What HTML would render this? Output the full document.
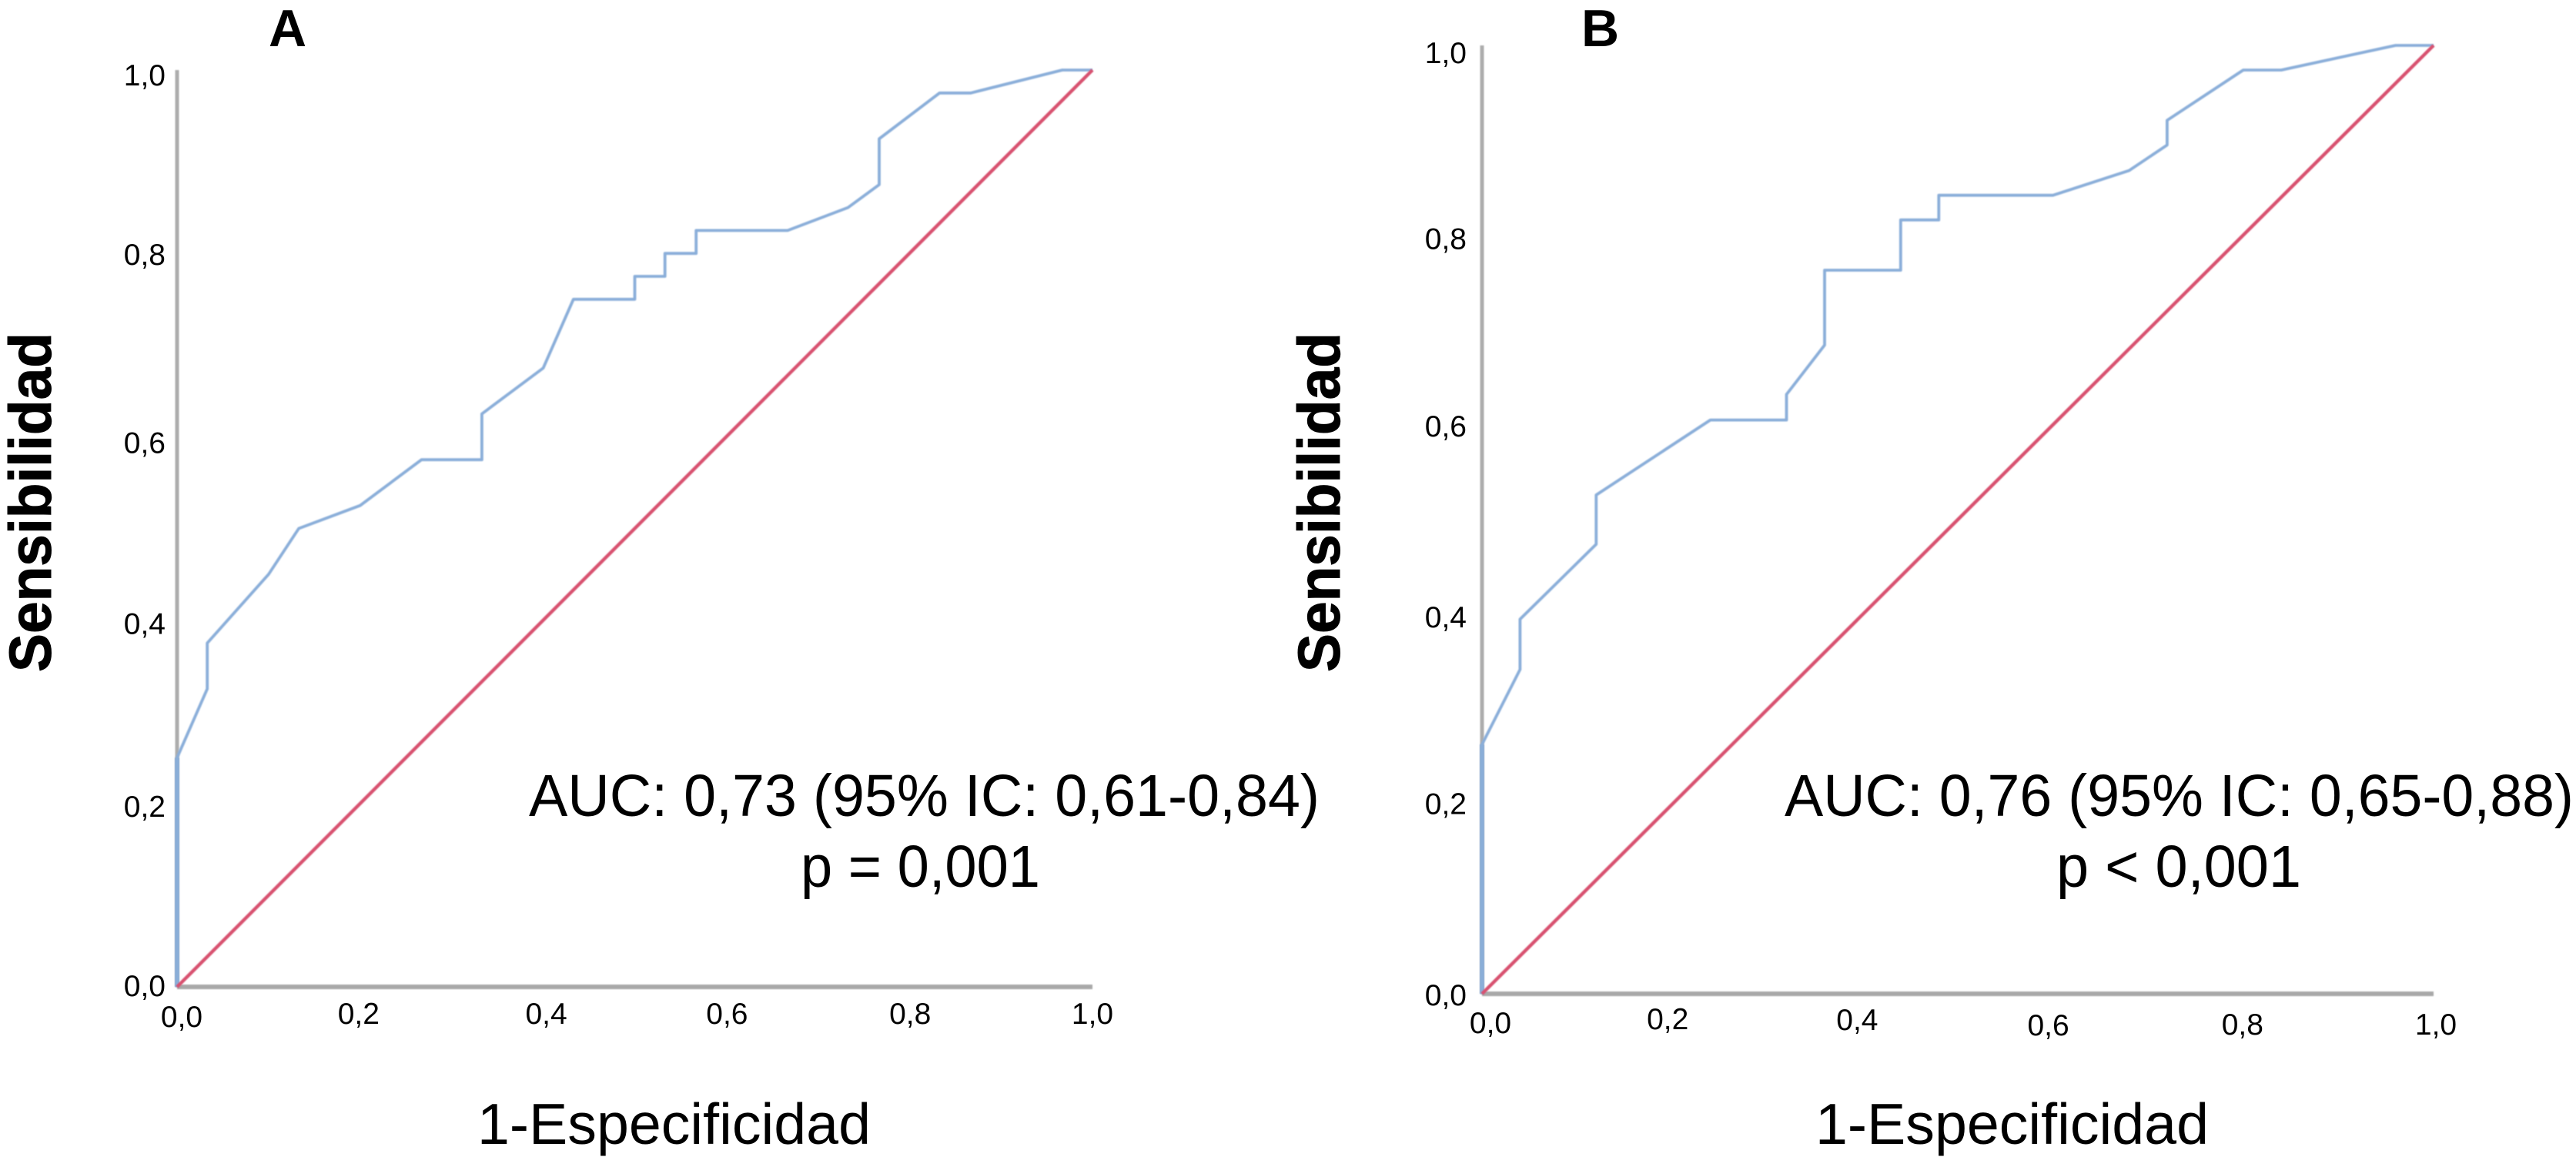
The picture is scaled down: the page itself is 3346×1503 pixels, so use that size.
<!DOCTYPE html>
<html lang="es">
<head>
<meta charset="utf-8">
<title>Curvas ROC A y B</title>
<style>
html,body{margin:0;padding:0;background:#fff;width:3346px;height:1503px;overflow:hidden}
svg{display:block}
text{font-family:"Liberation Sans",Arial,sans-serif;fill:#000}
.tick{font-size:39px}
.stat{font-size:77px}
.xt{font-size:75px}
.yt{font-size:77px;font-weight:bold;stroke:#000;stroke-width:1px}
.pl{font-size:68px;font-weight:bold}
</style>
</head>
<body>
<svg id="chart" xmlns="http://www.w3.org/2000/svg" width="3346" height="1503" viewBox="0 0 3346 1503">
  <defs>
    <filter id="soft" filterUnits="userSpaceOnUse" x="0" y="0" width="3346" height="1503"><feGaussianBlur stdDeviation="0.9"/></filter>
  </defs>
  <rect width="3346" height="1503" fill="#fff"/>
  <g id="panel-a"></g>
  <g id="panel-b"></g>

  <text class="pl" x="349" y="60">A</text>
  <text class="pl" x="2054" y="60">B</text>

  <text class="yt" transform="translate(66 873) rotate(-90)" textLength="441" lengthAdjust="spacingAndGlyphs">Sensibilidad</text>
  <text class="yt" transform="translate(1740 873) rotate(-90)" textLength="441" lengthAdjust="spacingAndGlyphs">Sensibilidad</text>

  <text class="xt" x="620" y="1486" textLength="511" lengthAdjust="spacingAndGlyphs">1-Especificidad</text>
  <text class="xt" x="2358" y="1486" textLength="511" lengthAdjust="spacingAndGlyphs">1-Especificidad</text>

  <text class="stat" x="687" y="1060" textLength="1027" lengthAdjust="spacingAndGlyphs">AUC: 0,73 (95% IC: 0,61-0,84)</text>
  <text class="stat" x="1040" y="1152" textLength="311" lengthAdjust="spacingAndGlyphs">p = 0,001</text>
  <text class="stat" x="2318" y="1060" textLength="1025" lengthAdjust="spacingAndGlyphs">AUC: 0,76 (95% IC: 0,65-0,88)</text>
  <text class="stat" x="2671" y="1152" textLength="318" lengthAdjust="spacingAndGlyphs">p &lt; 0,001</text>
</svg>
<script>
const xTickValues = [0, 0.2, 0.4, 0.6, 0.8, 1.0];
const yTickValues = [0, 0.2, 0.4, 0.6, 0.8, 1.0];
const xTickLabels = ["0,0", "0,2", "0,4", "0,6", "0,8", "1,0"];
const yTickLabels = ["0,0", "0,2", "0,4", "0,6", "0,8", "1,0"];

const referenceX = [0, 1];
const referenceY = [0, 1];

const fprA = [0, 0, 0.033, 0.033, 0.1, 0.133, 0.2, 0.267, 0.333, 0.333, 0.4, 0.433, 0.5, 0.5, 0.533, 0.533, 0.567, 0.567, 0.667, 0.733, 0.767, 0.767, 0.833, 0.867, 0.967, 1];
const tprA = [0, 0.25, 0.325, 0.375, 0.45, 0.5, 0.525, 0.575, 0.575, 0.625, 0.675, 0.75, 0.75, 0.775, 0.775, 0.8, 0.8, 0.825, 0.825, 0.85, 0.875, 0.925, 0.975, 0.975, 1, 1];

const fprB = [0, 0, 0.04, 0.04, 0.12, 0.12, 0.24, 0.32, 0.32, 0.36, 0.36, 0.44, 0.44, 0.48, 0.48, 0.6, 0.68, 0.72, 0.72, 0.8, 0.84, 0.96, 1];
const tprB = [0, 0.263, 0.342, 0.395, 0.474, 0.526, 0.605, 0.605, 0.632, 0.684, 0.763, 0.763, 0.816, 0.816, 0.842, 0.842, 0.868, 0.895, 0.921, 0.974, 0.974, 1, 1];

const SVG_NS = "http://www.w3.org/2000/svg";

function linearScale(d0, d1, r0, r1) {
  return function (v) { return r0 + (v - d0) / (d1 - d0) * (r1 - r0); };
}

function pathFrom(xs, ys, sx, sy) {
  return xs.map(function (x, i) {
    return (i ? "L" : "M") + sx(x).toFixed(1) + " " + sy(ys[i]).toFixed(1);
  }).join(" ");
}

function drawPanel(prefix, groupId, box, fpr, tpr, style) {
  const g = document.getElementById(groupId);
  const sx = linearScale(0, 1, box.x0, box.x1);
  const sy = linearScale(0, 1, box.y0, box.y1);

  const yAxis = document.createElementNS(SVG_NS, "line");
  yAxis.setAttribute("x1", sx(0));
  yAxis.setAttribute("x2", sx(0));
  yAxis.setAttribute("y1", sy(1));
  yAxis.setAttribute("y2", sy(0));
  yAxis.setAttribute("stroke", "#acacac");
  yAxis.setAttribute("stroke-width", "5");
  yAxis.setAttribute("filter", "url(#soft)");
  
  
  g.appendChild(yAxis);

  const xAxis = document.createElementNS(SVG_NS, "line");
  xAxis.setAttribute("x1", sx(0));
  xAxis.setAttribute("x2", sx(1));
  xAxis.setAttribute("y1", sy(0));
  xAxis.setAttribute("y2", sy(0));
  xAxis.setAttribute("stroke", "#a8a8a8");
  xAxis.setAttribute("stroke-width", "6");
  xAxis.setAttribute("filter", "url(#soft)");
  
  
  g.appendChild(xAxis);

  const startSegment = document.createElementNS(SVG_NS, "path");
  startSegment.setAttribute("d", pathFrom(fpr.slice(0, 2), tpr.slice(0, 2), sx, sy));
  startSegment.setAttribute("fill", "none");
  startSegment.setAttribute("stroke", "#7ea5d4");
  startSegment.setAttribute("stroke-width", "5.5");
  startSegment.setAttribute("filter", "url(#soft)");
  
  
  g.appendChild(startSegment);

  const roc = document.createElementNS(SVG_NS, "path");
  roc.setAttribute("d", pathFrom(fpr, tpr, sx, sy));
  roc.setAttribute("fill", "none");
  roc.setAttribute("stroke", "#8aaed9");
  roc.setAttribute("stroke-width", "3.8");
  roc.setAttribute("stroke-linejoin", "round");
  roc.setAttribute("filter", "url(#soft)");
  
  
  g.appendChild(roc);

  const ref = document.createElementNS(SVG_NS, "path");
  ref.setAttribute("d", pathFrom(referenceX, referenceY, sx, sy));
  ref.setAttribute("fill", "none");
  ref.setAttribute("stroke", "#d8516f");
  ref.setAttribute("stroke-width", "4.4");
  ref.setAttribute("filter", "url(#soft)");
  
  
  g.appendChild(ref);

  yTickValues.forEach(function (v, i) {
    const t = document.createElementNS(SVG_NS, "text");
    t.setAttribute("class", "tick");
    t.setAttribute("x", sx(0) - box.yLabelGap);
    t.setAttribute("y", sy(v) + style.yDrop[i]);
    t.setAttribute("text-anchor", "end");
    
    
    t.textContent = yTickLabels[i];
    g.appendChild(t);
  });

  xTickValues.forEach(function (v, i) {
    const t = document.createElementNS(SVG_NS, "text");
    t.setAttribute("class", "tick");
    t.setAttribute("x", sx(v) + style.xShift[i]);
    t.setAttribute("y", box.xLabelBase + style.xDrop[i]);
    t.setAttribute("text-anchor", "middle");
    
    
    t.textContent = xTickLabels[i];
    g.appendChild(t);
  });
}

drawPanel("panel-a", "panel-a",
  { x0: 230, x1: 1419, y0: 1282, y1: 91, yLabelGap: 15, xLabelBase: 1330 },
  fprA, tprA,
  { yDrop: [12, 17, 18, 21, 15, 20], xShift: [6, -2, 4, 1, 1, 0], xDrop: [4, 0, 0, 0, 0, 0] });

drawPanel("panel-b", "panel-b",
  { x0: 1925, x1: 3161, y0: 1291, y1: 59, yLabelGap: 20, xLabelBase: 1337 },
  fprB, tprB,
  { yDrop: [15, 13, 17, 15, 18, 23], xShift: [11, -6, -7, -6, -1, 3], xDrop: [5, 0, 1, 8, 7, 7] });
</script>
</body>
</html>
